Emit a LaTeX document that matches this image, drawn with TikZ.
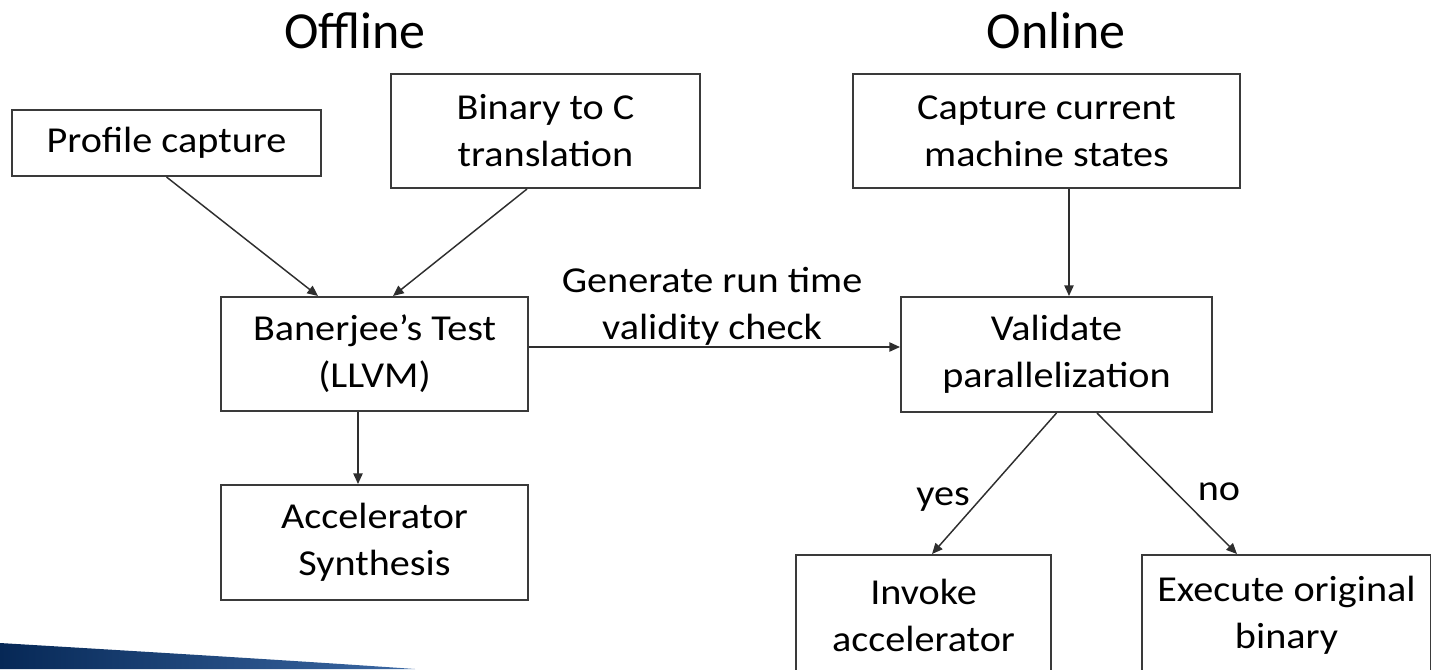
\documentclass[tikz,border=0pt]{standalone}
\usepackage{fontspec}
\setmainfont{Carlito}[FakeStretch=1.1]
\newfontfamily\headfont{Carlito}
\usetikzlibrary{arrows.meta,calc}
\definecolor{boxline}{HTML}{3A3A3A}
\definecolor{arrowline}{HTML}{2E2E2E}
\definecolor{navy}{RGB}{6,40,86}
\definecolor{navylight}{RGB}{60,105,165}

\begin{document}
\begin{tikzpicture}[x=0.75pt,y=-0.75pt,
  box/.style={draw=boxline,line width=1.5pt,inner sep=0pt,align=center,
    text=black,font=\fontsize{27.4pt}{35.25pt}\selectfont},
  lbl/.style={inner sep=0pt,align=center,text=black,
    font=\fontsize{27.4pt}{35.25pt}\selectfont},
  head/.style={inner sep=0pt,text=black,font=\headfont\fontsize{39pt}{46pt}\selectfont},
  flow/.style={draw=arrowline,line width=1.1pt,
    -{Triangle[length=8pt,width=7pt]}}]

\useasboundingbox (0,0) rectangle (1431,669);
\clip (0,0) rectangle (1431,669);

% corner band
\shade[left color=navy,middle color=navy,right color=navylight]
  (0,643) .. controls (150,652) and (300,661) .. (415,669) -- (0,669) -- cycle;

% section headings
\node[head,anchor=base] (hoff) at (355,48) {Offline};
\node[head,anchor=base] (hon) at (1056,48) {Online};

% offline stages
\node[box,minimum width=231.75pt,minimum height=49.5pt] (prof) at (166.5,143) {Profile capture};
\node[box,minimum width=231.75pt,minimum height=85.5pt] (bin) at (545.5,131) {Binary to C\\translation};
\node[box,minimum width=230.25pt,minimum height=85.5pt] (ban) at (374.5,354) {Banerjee’s Test\\(LLVM)};
\node[box,minimum width=230.25pt,minimum height=86.25pt] (acc) at (374.5,542.5) {Accelerator\\Synthesis};

% online stages
\node[box,minimum width=290.25pt,minimum height=85.5pt] (cap) at (1046.5,131) {Capture current\\machine states};
\node[box,minimum width=233.25pt,minimum height=86.25pt] (val) at (1056.5,354.5) {Validate\\parallelization};
\node[box,minimum width=191.25pt,minimum height=90pt] (inv) at (923.5,615) {Invoke\\accelerator};
\node[box,minimum width=216.75pt,minimum height=90pt] (exe) at (1286.5,615) {Execute original\\binary};

% connectors
\draw[flow] (prof.south) -- ($(ban.north)+(-56.5,0)$);
\draw[flow] ($(bin.south)+(-18.5,0)$) -- ($(ban.north)+(18.5,0)$);
\draw[flow] ($(ban.south)+(-16.5,0)$) -- ($(acc.north)+(-16.5,0)$);
\draw[flow] ($(ban.east)+(0,-7)$) -- ($(val.west)+(0,-7.5)$);
\draw[flow] ($(cap.south)+(22.5,0)$) -- ($(val.north)+(12.5,0)$);
\draw[flow] (val.south) -- ($(inv.north)+(8.5,0)$);
\draw[flow] ($(val.south)+(40.5,0)$) -- ($(exe.north)+(-49.5,0)$);

% connector labels
\node[lbl] (gen) at (712,306) {Generate run time\\validity check};
\node[lbl] (yes) at (943,500) {yes};
\node[lbl] (no) at (1219,492) {no};
\end{tikzpicture}
\end{document}
